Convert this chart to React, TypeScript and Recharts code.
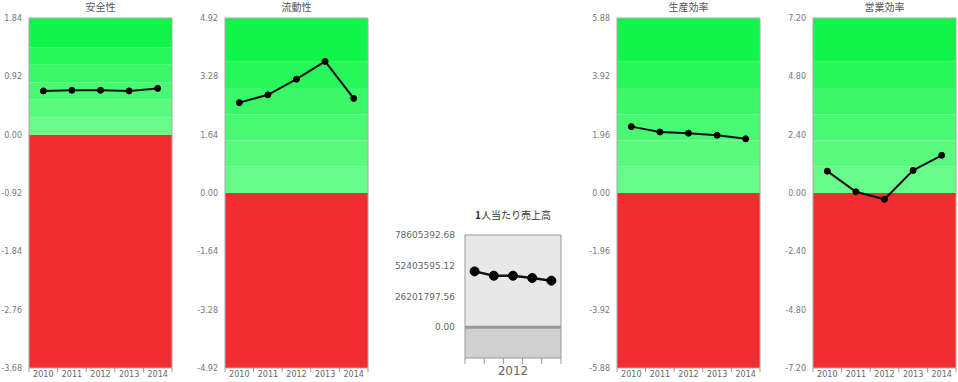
import { LineChart, Line, XAxis, YAxis, ReferenceArea, ReferenceLine } from 'recharts'

const years = ['2010', '2011', '2012', '2013', '2014']

const safety = [0.69, 0.7, 0.7, 0.69, 0.73]
const liquidity = [2.54, 2.76, 3.2, 3.7, 2.66]
const productivity = [2.23, 2.05, 2.01, 1.94, 1.82]
const operating = [0.9, 0.05, -0.26, 0.93, 1.55]
const salesPerHead = [47600000, 43900000, 43900000, 42000000, 39700000]

const safetyTicks = [-3.68, -2.76, -1.84, -0.92, 0, 0.92, 1.84]
const liquidityTicks = [-4.92, -3.28, -1.64, 0, 1.64, 3.28, 4.92]
const productivityTicks = [-5.88, -3.92, -1.96, 0, 1.96, 3.92, 5.88]
const operatingTicks = [-7.2, -4.8, -2.4, 0, 2.4, 4.8, 7.2]
const salesTicks = [0, 26201797.56, 52403595.12, 78605392.68]
const salesFloor = -26201797.56

// green bands above zero, as share of the axis max
const bandSteps = [0, 0.15, 0.3, 0.45, 0.6, 0.75, 1]
const bandColors = ['#69fb8a', '#5afa7f', '#4af973', '#3af867', '#28f75b', '#12f64b']

const xTicks = [-0.5, 0, 0.5, 1, 1.5, 2, 2.5, 3, 3.5, 4, 4.5]

const tickFont = 'DejaVu Sans, sans-serif'
const cjkFont = '"Noto Sans CJK JP", sans-serif'

function YearTick(props: any) {
    const { x, y, payload, labelOnly, size, len, shift } = props
    const v = payload.value as number
    if (!Number.isInteger(v)) {
        return <line x1={x} x2={x} y1={y} y2={y + len} stroke="#999" strokeWidth={1} />
    }
    const label = labelOnly === undefined ? years[v] : labelOnly === v ? years[v] : ''
    return (
        <text x={x} y={y} dy={size + shift} textAnchor="middle" fill="#666" fontSize={size} fontFamily={tickFont}>
            {label}
        </text>
    )
}

interface PanelProps {
    title: string
    values: number[]
    ticks: number[]
    left: number
    axisWidth: number
}

function Panel({ title, values, ticks, left, axisWidth }: PanelProps) {
    const min = ticks[0]
    const max = ticks[ticks.length - 1]
    const data = values.map((v, i) => ({ i, v }))
    return (
        <div style={{ position: 'absolute', left, top: 0, width: axisWidth + 145, height: 382 }}>
            <div
                style={{
                    position: 'absolute',
                    left: axisWidth,
                    width: 143,
                    top: 0,
                    textAlign: 'center',
                    fontSize: 10,
                    lineHeight: '14px',
                    color: '#555',
                    fontFamily: cjkFont,
                }}
            >
                {title}
            </div>
            <LineChart width={axisWidth + 145} height={382} data={data} margin={{ top: 18, right: 2, bottom: 0, left: 0 }}>
                <XAxis
                    type="number"
                    dataKey="i"
                    domain={[-0.5, 4.5]}
                    ticks={xTicks}
                    interval={0}
                    allowDataOverflow
                    axisLine={false}
                    tickLine={false}
                    tickSize={0}
                    tickMargin={0}
                    height={14}
                    tick={<YearTick size={8} len={4} shift={1} />}
                />
                <YAxis
                    type="number"
                    domain={[min, max]}
                    ticks={ticks}
                    interval={0}
                    allowDataOverflow
                    axisLine={false}
                    tickLine={false}
                    tickSize={0}
                    tickMargin={7}
                    width={axisWidth}
                    tickFormatter={(v: number) => v.toFixed(2)}
                    tick={{ fill: '#777', fontSize: 8, fontFamily: tickFont }}
                />
                <ReferenceArea y1={min} y2={0} fill="#f22d32" fillOpacity={1} stroke="none" />
                {bandColors.map((c, k) => (
                    <ReferenceArea
                        key={k}
                        y1={bandSteps[k] * max}
                        y2={bandSteps[k + 1] * max}
                        fill={c}
                        fillOpacity={1}
                        stroke="none"
                    />
                ))}
                <ReferenceArea y1={min} y2={max} fill="none" stroke="#aaa" strokeWidth={1} />
                <Line
                    type="linear"
                    dataKey="v"
                    stroke="#111"
                    strokeWidth={2}
                    dot={{ r: 3, fill: '#000', stroke: '#000', strokeWidth: 1 }}
                    isAnimationActive={false}
                />
            </LineChart>
        </div>
    )
}

function SalesPanel() {
    const data = salesPerHead.map((v, i) => ({ i, v }))
    const max = salesTicks[salesTicks.length - 1]
    return (
        <div style={{ position: 'absolute', left: 390, top: 206, width: 175, height: 176 }}>
            <div
                style={{
                    position: 'absolute',
                    left: 75,
                    width: 96,
                    top: 2,
                    textAlign: 'center',
                    fontSize: 10,
                    lineHeight: '14px',
                    color: '#333',
                    fontFamily: cjkFont,
                }}
            >
                <b>1</b>人当たり売上高
            </div>
            <LineChart width={175} height={176} data={data} margin={{ top: 29, right: 4, bottom: 0, left: 0 }}>
                <XAxis
                    type="number"
                    dataKey="i"
                    domain={[-0.5, 4.5]}
                    ticks={xTicks}
                    interval={0}
                    allowDataOverflow
                    axisLine={false}
                    tickLine={false}
                    tickSize={0}
                    tickMargin={0}
                    height={24}
                    tick={<YearTick size={12} len={6} labelOnly={2} shift={5} />}
                />
                <YAxis
                    type="number"
                    domain={[salesFloor, max]}
                    ticks={salesTicks}
                    interval={0}
                    allowDataOverflow
                    axisLine={false}
                    tickLine={false}
                    tickSize={0}
                    tickMargin={10}
                    width={75}
                    tickFormatter={(v: number) => v.toFixed(2)}
                    tick={{ fill: '#666', fontSize: 9, fontFamily: tickFont }}
                />
                <ReferenceArea y1={0} y2={max} fill="#e8e8e8" fillOpacity={1} stroke="none" />
                <ReferenceArea y1={salesFloor} y2={0} fill="#d0d0d0" fillOpacity={1} stroke="none" />
                <ReferenceLine y={0} stroke="#999" strokeWidth={3} />
                <ReferenceArea y1={salesFloor} y2={max} fill="none" stroke="#999" strokeWidth={1} />
                <Line
                    type="linear"
                    dataKey="v"
                    stroke="#111"
                    strokeWidth={2.5}
                    dot={{ r: 4.5, fill: '#000', stroke: '#000', strokeWidth: 1 }}
                    isAnimationActive={false}
                />
            </LineChart>
        </div>
    )
}

export default function App() {
    return (
        <div style={{ position: 'absolute', left: 0, top: 0, width: 958, height: 382, background: '#fff', fontFamily: tickFont }}>
            <Panel title="安全性" values={safety} ticks={safetyTicks} left={0} axisWidth={29} />
            <Panel title="流動性" values={liquidity} ticks={liquidityTicks} left={190} axisWidth={35} />
            <SalesPanel />
            <Panel title="生産効率" values={productivity} ticks={productivityTicks} left={580} axisWidth={37} />
            <Panel title="営業効率" values={operating} ticks={operatingTicks} left={780} axisWidth={33} />
        </div>
    )
}
